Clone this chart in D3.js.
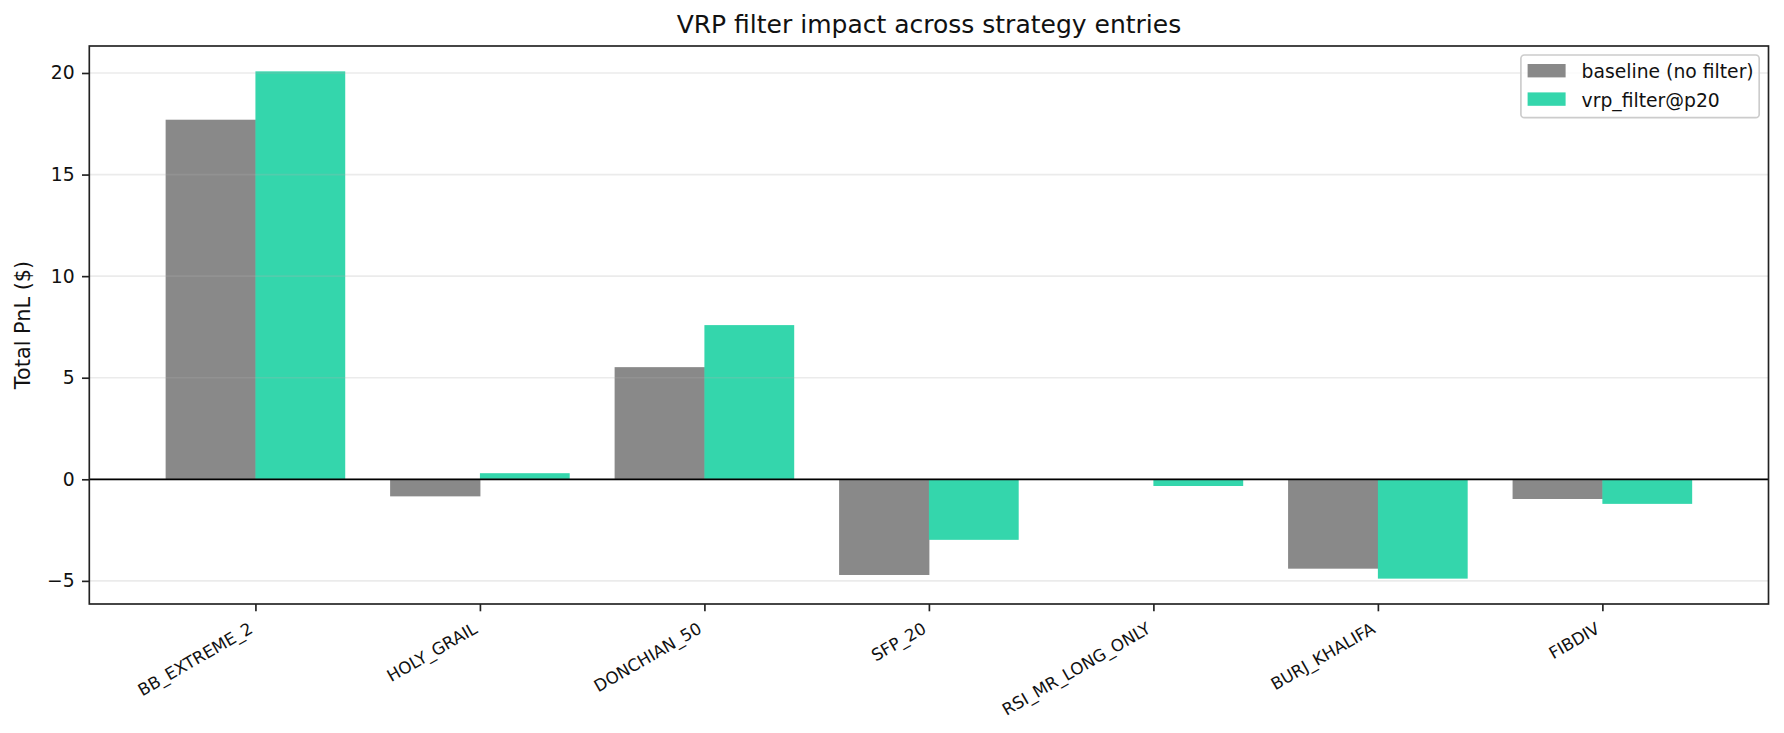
<!DOCTYPE html>
<html>
<head>
<meta charset="utf-8">
<script src="https://cdn.jsdelivr.net/npm/d3@7"></script>
<style>
  html, body { margin: 0; padding: 0; background: #fff; }
  svg { display: block; font-family: "DejaVu Sans", sans-serif; }
</style>
</head>
<body>
<svg id="chart" width="1784" height="733"></svg>
<script>
// ---- data ----
const categories = ["BB_EXTREME_2", "HOLY_GRAIL", "DONCHIAN_50", "SFP_20", "RSI_MR_LONG_ONLY", "BURJ_KHALIFA", "FIBDIV"];
const baselineValues = [17.70, -0.84, 5.52, -4.71, 0.0, -4.40, -0.97];
const vrpValues = [20.08, 0.30, 7.59, -2.98, -0.33, -4.89, -1.21];
const seriesNames = ["baseline (no filter)", "vrp_filter@p20"];
const yTickValues = [-5, 0, 5, 10, 15, 20];
const chartTitle = "VRP filter impact across strategy entries";
const yAxisLabel = "Total PnL ($)";

// ---- layout ----
const plotLeft = 89.3, plotRight = 1768.5, plotTop = 46, plotBottom = 604;
const colors = ["#898989", "#34d6ac"];
const barW = 0.4;

const svg = d3.select("#chart");

// x: linear in category-index units with matplotlib-style 5% margins
const xMinData = -barW, xMaxData = categories.length - 1 + barW;
const xm = (xMaxData - xMinData) * 0.05;
const x = d3.scaleLinear().domain([xMinData - xm, xMaxData + xm]).range([plotLeft, plotRight]);

const allVals = baselineValues.concat(vrpValues).concat([0]);
const yMin = d3.min(allVals), yMax = d3.max(allVals);
const ym = (yMax - yMin) * 0.05;
const y = d3.scaleLinear().domain([yMin - ym, yMax + ym]).range([plotBottom, plotTop]);

// bars
const series = [baselineValues, vrpValues];
series.forEach((vals, si) => {
  svg.append("g").selectAll("rect").data(vals).join("rect")
    .attr("x", (d, i) => x(i + (si === 0 ? -barW : 0)))
    .attr("width", x(barW) - x(0) + (si === 0 ? 0.5 : 0))
    .attr("y", d => y(Math.max(0, d)))
    .attr("height", d => Math.abs(y(d) - y(0)))
    .attr("fill", colors[si]);
});

// grid (on top, translucent)
svg.append("g").selectAll("line").data(yTickValues).join("line")
  .attr("x1", plotLeft).attr("x2", plotRight)
  .attr("y1", d => y(d)).attr("y2", d => y(d))
  .attr("stroke", "#b0b0b0").attr("stroke-opacity", 0.25).attr("stroke-width", 1.67);

// zero line
svg.append("line")
  .attr("x1", plotLeft).attr("x2", plotRight)
  .attr("y1", y(0)).attr("y2", y(0))
  .attr("stroke", "#000").attr("stroke-width", 1.67);

// y axis
const yAxis = d3.axisLeft(y).tickValues(yTickValues).tickSize(7.3).tickPadding(7.3)
  .tickFormat(d => d < 0 ? "\u2212" + Math.abs(d) : String(d));
const gy = svg.append("g").attr("transform", `translate(${plotLeft},0)`).call(yAxis);
gy.select(".domain").remove();
gy.selectAll(".tick line").attr("stroke", "#222").attr("stroke-width", 1.67);
gy.selectAll(".tick text").attr("font-size", 18.75).attr("fill", "#111")
  .attr("font-family", "DejaVu Sans");

// x axis
const xAxis = d3.axisBottom(x).tickValues(d3.range(categories.length)).tickSize(7.3)
  .tickFormat(i => categories[i]);
const gx = svg.append("g").attr("transform", `translate(0,${plotBottom})`).call(xAxis);
gx.select(".domain").remove();
gx.selectAll(".tick line").attr("stroke", "#222").attr("stroke-width", 1.67);
const fx = 16.67;
gx.selectAll(".tick text")
  .attr("font-size", fx).attr("fill", "#111").attr("font-family", "DejaVu Sans")
  .attr("text-anchor", "end")
  .attr("dy", null)
  .attr("y", null)
  .attr("transform", `translate(${-0.5 * 0.236 * fx},${14.6 + 0.866 * 0.928 * fx}) rotate(-30)`);

// frame
svg.append("rect")
  .attr("x", plotLeft).attr("y", plotTop).attr("width", plotRight - plotLeft).attr("height", plotBottom - plotTop)
  .attr("fill", "none").attr("stroke", "#222").attr("stroke-width", 1.67);

// title
svg.append("text")
  .attr("x", (plotLeft + plotRight) / 2).attr("y", 33)
  .attr("text-anchor", "middle").attr("font-size", 25).attr("fill", "#111")
  .text(chartTitle);

// y label
svg.append("text")
  .attr("transform", `translate(30,${(plotTop + plotBottom) / 2}) rotate(-90)`)
  .attr("text-anchor", "middle").attr("font-size", 20.83).attr("fill", "#111")
  .text(yAxisLabel);

// legend
const lg = svg.append("g");
const lgX = plotRight - 9.3 - 238.3, lgY = plotTop + 9;
lg.append("rect")
  .attr("x", lgX).attr("y", lgY).attr("width", 238.3).attr("height", 62.7)
  .attr("rx", 3.5).attr("ry", 3.5)
  .attr("fill", "#fff").attr("fill-opacity", 0.8)
  .attr("stroke", "#cccccc").attr("stroke-width", 1.67);
seriesNames.forEach((name, i) => {
  lg.append("rect")
    .attr("x", lgX + 6.7).attr("y", lgY + 9 + i * 28.4)
    .attr("width", 38).attr("height", 13.4)
    .attr("fill", colors[i]);
  lg.append("text")
    .attr("x", lgX + 60.7).attr("y", lgY + 23.3 + i * 28.4)
    .attr("font-size", 18.75).attr("fill", "#111")
    .text(name);
});
</script>
</body>
</html>
